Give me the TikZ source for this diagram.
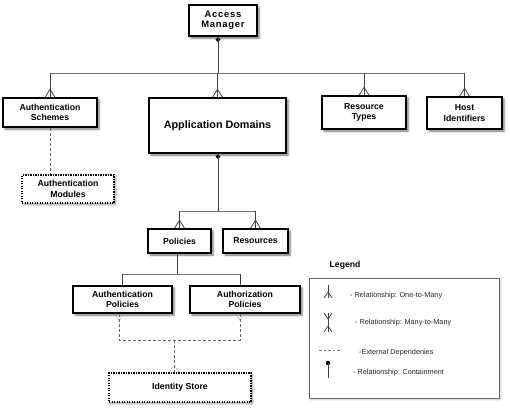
\documentclass[tikz,border=0pt]{standalone}
\usepackage{fontspec}
\setmainfont{Liberation Sans}
\newfontfamily\spacedfont[LetterSpace=8]{Liberation Sans}
\usetikzlibrary{calc,shadows.blur}
\begin{document}
\begin{tikzpicture}[x=1pt,y=-1pt,
  box/.style={draw=black,line width=1.4pt,fill=white,align=center,inner sep=1pt,
    font=\bfseries\fontsize{8.7}{10.5}\selectfont,
    blur shadow={shadow xshift=2pt,shadow yshift=-2pt,shadow blur steps=5,shadow opacity=55}},
  dbox/.style={box,dash pattern=on 1.3pt off 1.2pt,
    blur shadow={shadow xshift=1.5pt,shadow yshift=-1.5pt,shadow blur steps=4,shadow opacity=25}},
  conn/.style={draw=black!75,line width=0.8pt},
  bus/.style={draw=black!55,line width=0.9pt},
  dep/.style={draw=black!60,line width=0.8pt,dash pattern=on 3pt off 2pt},
  depfoot/.style={draw=black!50,line width=0.6pt,dash pattern=on 1pt off 1pt},
  legtxt/.style={anchor=west,inner sep=0pt,font=\fontsize{7.3}{8}\selectfont,text=black!85}
]
\useasboundingbox (0,0) rectangle (510,408);
\newcommand\crowfoot[1]{\draw[conn] ($(#1)+(-5,0)$) -- ($(#1)+(0,-8)$) -- ($(#1)+(5,0)$);}
\newcommand\containdot[1]{\fill[black] ($(#1)+(0,0.5)$) -- ++(2.5,2.5) -- ++(-2.5,2.5) -- ++(-2.5,-2.5) -- cycle;}

% boxes
\node[box,minimum width=68pt,minimum height=31pt,font=\bfseries\spacedfont\fontsize{9.4}{10.5}\selectfont] (am) at (223,20.5) {Access\\Manager};
\node[box,minimum width=94pt,minimum height=29pt] (as) at (50,112.5) {Authentication\\Schemes};
\node[box,minimum width=137pt,minimum height=55pt,font=\bfseries\fontsize{10.8}{12}\selectfont] (ad) at (217.5,125.5) {Application Domains};
\node[box,minimum width=84pt,minimum height=33pt] (rt) at (364,112.5) {Resource\\Types};
\node[box,minimum width=75pt,minimum height=32pt] (hi) at (464.5,113) {Host\\Identifiers};
\node[dbox,minimum width=92pt,minimum height=28pt] (amod) at (68,189) {Authentication\\Modules};
\node[box,minimum width=63pt,minimum height=24pt] (pol) at (179.5,241) {Policies};
\node[box,minimum width=65pt,minimum height=24pt] (res) at (255.5,241) {Resources};
\node[box,minimum width=99pt,minimum height=27pt] (apol) at (122.5,299.5) {Authentication\\Policies};
\node[box,minimum width=110pt,minimum height=27pt] (zpol) at (245,299.5) {Authorization\\Policies};
\node[dbox,minimum width=142pt,minimum height=29pt] (ids) at (180,387.5) {Identity Store};

% Access Manager containment
\coordinate (amc) at ($(am.south)+(-5,0)$);
\coordinate (b1) at (218,73);
\containdot{amc}
\draw[conn] (amc) -- (amc |- b1);
\draw[bus] (as.north |- b1) -- (hi.north |- b1);
\foreach \n in {as,ad,rt,hi}{
  \draw[conn] (\n.north |- b1) -- (\n.north);
  \crowfoot{\n.north}
}

% Schemes -> Modules
\draw[dep] (as.south) -- (as.south |- amod.north);

% Application Domains -> Policies, Resources
\coordinate (adc) at ($(ad.south)+(0.5,0)$);
\coordinate (b2) at (218,211);
\containdot{adc}
\draw[conn] (adc) -- (adc |- b2);
\draw[bus] (pol.north |- b2) -- (res.north |- b2);
\foreach \n in {pol,res}{
  \draw[conn] (\n.north |- b2) -- (\n.north);
  \crowfoot{\n.north}
}

% Policies -> Authentication / Authorization policies
\coordinate (pc) at ($(pol.south)+(-2.5,0)$);
\coordinate (b3) at (177,274);
\coordinate (zt) at ($(zpol.north)+(-5,0)$);
\draw[conn] (pc) -- (pc |- b3);
\draw[bus] (apol.north |- b3) -- (zt |- b3);
\draw[conn] (apol.north |- b3) -- (apol.north);
\draw[conn] (zt |- b3) -- (zt);

% external dependencies to Identity Store
\coordinate (ab) at ($(apol.south)+(-3.5,0)$);
\coordinate (zb) at ($(zpol.south)+(-5,0)$);
\coordinate (b4) at (174,340);
\coordinate (it) at ($(ids.north)+(-6,0)$);
\draw[dep] (ab) -- (ab |- b4) -- (zb |- b4) -- (zb);
\draw[dep] (b4) -- (it);
\draw[depfoot] ($(ab)+(-4,0)$) -- ($(ab)+(0,7)$) -- ($(ab)+(4,0)$);
\draw[depfoot] ($(zb)+(-4,0)$) -- ($(zb)+(0,7)$) -- ($(zb)+(4,0)$);
\draw[depfoot] ($(it)+(-5,0)$) -- ($(it)+(0,-7)$) -- ($(it)+(5,0)$);

% legend
\node[font=\bfseries\fontsize{8.6}{10}\selectfont,inner sep=0pt] (legt) at (345,265) {Legend};
\node[draw=black!60,line width=0.8pt,minimum width=190pt,minimum height=120pt,inner sep=0pt,
  blur shadow={shadow xshift=1.5pt,shadow yshift=-1.5pt,shadow blur steps=4,shadow opacity=25},fill=white] (leg) at (404,338) {};
% one-to-many symbol
\coordinate (s1t) at (328,285);
\coordinate (s1b) at (328,298);
\draw[conn,line width=0.7pt] (s1t) -- (s1b);
\draw[conn,line width=0.7pt] ($(s1b)+(-4,0)$) -- ($(s1b)+(0,-6)$) -- ($(s1b)+(4,0)$);
\node[legtxt] (l1) at (350,296) {- Relationship: One-to-Many};
% many-to-many symbol
\coordinate (s2t) at (328,313);
\coordinate (s2b) at (328,332);
\draw[conn,line width=0.7pt] (s2t) -- (s2b);
\draw[conn,line width=0.7pt] ($(s2t)+(-4,0)$) -- ($(s2t)+(0,6)$) -- ($(s2t)+(4,0)$);
\draw[conn,line width=0.7pt] ($(s2b)+(-4,0)$) -- ($(s2b)+(0,-6)$) -- ($(s2b)+(4,0)$);
\node[legtxt] (l2) at (355,323) {- Relationship: Many-to-Many};
% dashed symbol
\coordinate (s3a) at (319,350);
\coordinate (s3b) at (340,350);
\draw[dep,draw=black!50,line width=0.6pt,dash pattern=on 2.5pt off 2pt] (s3a) -- (s3b);
\node[legtxt] (l3) at (359,353) {-External Dependenies};
% containment symbol
\coordinate (s4t) at (328,363);
\coordinate (s4b) at (328,378);
\fill[black] (s4t) circle (2.2);
\draw[conn,line width=0.7pt] (s4t) -- (s4b);
\begin{scope}
\clip (340,360) rectangle (498,376);
\node[legtxt] (l4) at (353,373) {- Relationship: Containment};
\end{scope}
\end{tikzpicture}
\end{document}
